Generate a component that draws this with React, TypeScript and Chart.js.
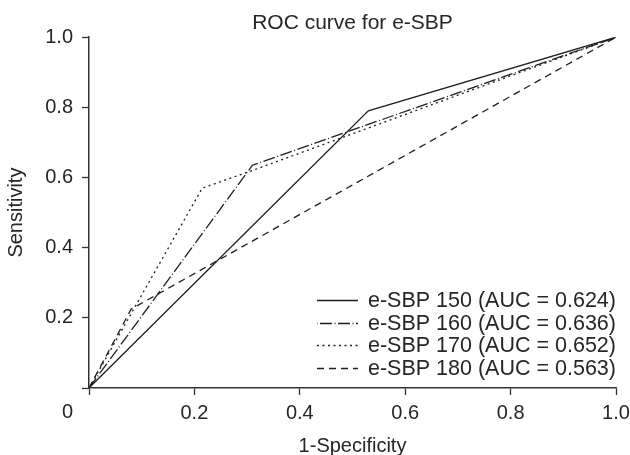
import React, { useEffect, useRef } from 'react';
import { Chart, registerables } from 'chart.js';

Chart.register(...registerables);

// ---- data ----
const seriesLabels = [
  'e-SBP 150 (AUC = 0.624)',
  'e-SBP 160 (AUC = 0.636)',
  'e-SBP 170 (AUC = 0.652)',
  'e-SBP 180 (AUC = 0.563)',
];
const fpr150 = [0, 0.53, 1];
const tpr150 = [0, 0.79, 1];
const fpr160 = [0, 0.31, 1];
const tpr160 = [0, 0.635, 1];
const fpr170 = [0, 0.215, 0.31, 1];
const tpr170 = [0, 0.57, 0.62, 1];
const fpr180 = [0, 0.08, 1];
const tpr180 = [0, 0.225, 1];

const xTickLabels = ['', '0.2', '0.4', '0.6', '0.8', '1.0'];
const yTickLabels = ['0', '0.2', '0.4', '0.6', '0.8', '1.0'];

const titleText = 'ROC curve for e-SBP';
const xTitle = '1-Specificity';
const yTitle = 'Sensitivity';

// ---- styles ----
const FONT = '"Liberation Sans", Arial, Helvetica, sans-serif';
const LINE = '#1f1f1f';
const AXIS = '#333333';
const TEXT = '#262626';
const dashes: number[][] = [[], [12, 2.5, 1, 2.5], [2, 3.5], [7, 5]];
const legendDashOffsets = [0, 15, 0, 0];

const legendPlugin = {
  id: 'insideLegend',
  afterDatasetsDraw(chart: any) {
    const ctx = chart.ctx;
    const area = chart.chartArea;
    const n = chart.data.datasets.length;
    ctx.save();
    ctx.font = `21.5px ${FONT}`;
    ctx.textBaseline = 'middle';
    ctx.textAlign = 'left';
    chart.data.datasets.forEach((ds: any, i: number) => {
      const y = Math.round(area.bottom - 20 - (n - 1 - i) * 22.7) + 0.5;
      const x0 = area.left + 228;
      ctx.beginPath();
      ctx.setLineDash(ds.borderDash || []);
      ctx.lineDashOffset = legendDashOffsets[i];
      ctx.strokeStyle = ds.borderColor;
      ctx.lineWidth = 1.3;
      ctx.moveTo(x0, y);
      ctx.lineTo(x0 + 41, y);
      ctx.stroke();
      ctx.setLineDash([]);
      ctx.fillStyle = TEXT;
      ctx.fillText(ds.label, x0 + 51, y + 0.5);
    });
    ctx.restore();
  },
};

export default function App() {
  const canvasRef = useRef<HTMLCanvasElement | null>(null);

  useEffect(() => {
    if (!canvasRef.current) return;
    const xs = [fpr150, fpr160, fpr170, fpr180];
    const ys = [tpr150, tpr160, tpr170, tpr180];
    const datasets = seriesLabels.map((label, k) => ({
      label,
      data: xs[k].map((x, i) => ({ x, y: ys[k][i] })),
      showLine: true,
      borderColor: LINE,
      backgroundColor: LINE,
      borderWidth: 1.3,
      borderDash: dashes[k],
      pointRadius: 0,
      pointHoverRadius: 0,
      fill: false,
      tension: 0,
    }));

    const chart = new Chart(canvasRef.current, {
      type: 'scatter',
      data: { datasets },
      plugins: [legendPlugin],
      options: {
        animation: false,
        responsive: true,
        maintainAspectRatio: false,
        devicePixelRatio: 1,
        layout: { padding: { left: 0, right: 14, top: 0, bottom: 0 } },
        plugins: {
          legend: { display: false },
          tooltip: { enabled: false },
          title: {
            display: true,
            fullSize: false,
            text: titleText,
            color: TEXT,
            font: { family: FONT, size: 21, weight: 'normal', lineHeight: 1.2 },
            padding: { top: 11, bottom: 1 },
          },
        },
        scales: {
          x: {
            type: 'linear',
            min: 0,
            max: 1,
            afterFit: (s: any) => {
              s.height = 67;
              s.paddingLeft = 0;
              s.paddingRight = 0;
            },
            ticks: {
              stepSize: 0.2,
              autoSkip: false,
              maxRotation: 0,
              padding: 6,
              color: TEXT,
              font: { family: FONT, size: 20 },
              callback: (_v: any, i: number) => xTickLabels[i],
            },
            grid: {
              display: true,
              drawOnChartArea: false,
              drawTicks: true,
              tickLength: 7,
              tickWidth: 1.3,
              tickColor: AXIS,
            },
            border: { display: true, color: AXIS, width: 1.5 },
            title: {
              display: true,
              text: xTitle,
              color: TEXT,
              font: { family: FONT, size: 20, lineHeight: 0.9 },
              padding: { top: 0, bottom: 0 },
            },
          },
          y: {
            type: 'linear',
            min: 0,
            max: 1,
            afterFit: (s: any) => {
              s.width = 89;
              s.paddingTop = 0;
              s.paddingBottom = 0;
            },
            ticks: {
              stepSize: 0.2,
              autoSkip: false,
              padding: 9,
              color: TEXT,
              font: { family: FONT, size: 20, lineHeight: 1.2 },
              callback: (_v: any, i: number) =>
                i === 0 ? ['', '', yTickLabels[0]] : yTickLabels[i],
            },
            grid: {
              display: true,
              drawOnChartArea: false,
              drawTicks: true,
              tickLength: 7,
              tickWidth: 1.3,
              tickColor: AXIS,
            },
            border: { display: true, color: AXIS, width: 1.5 },
            title: {
              display: true,
              text: yTitle,
              color: TEXT,
              font: { family: FONT, size: 20, lineHeight: 1.2 },
              padding: { top: 4, bottom: 0 },
            },
          },
        },
      } as any,
    });
    return () => chart.destroy();
  }, []);

  return (
    <div style={{ position: 'absolute', left: 0, top: 0, width: 630, height: 455, background: '#fff' }}>
      <canvas ref={canvasRef} />
    </div>
  );
}
